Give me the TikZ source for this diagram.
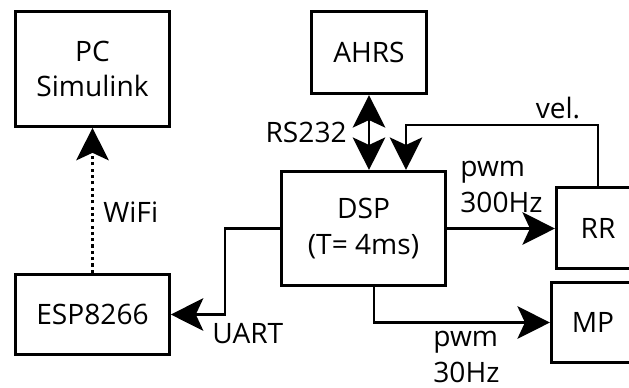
\documentclass[tikz,border=0pt]{standalone}
\usepackage{fontspec}
\setmainfont{Open Sans}
\usetikzlibrary{arrows.meta}

\begin{document}
\begin{tikzpicture}[x=0.02cm,y=-0.02cm,
    font=\fontsize{16}{20}\selectfont,
    bigtip/.tip={Stealth[length=6.5mm,width=6.5mm,inset=1.5mm]},
    blk/.style={draw,line width=1.5pt,align=center,inner sep=0pt},
    link/.style={line width=1.5pt,-bigtip},
    lbl/.style={align=left,inner sep=0pt}]
    \useasboundingbox (0,0) rectangle (629,387);
    \clip (0,0) rectangle (629,387);
    \node[blk,minimum width=3.08cm,minimum height=2.30cm] (pc) at (92.5,69) {PC\\Simulink};
    \node[blk,minimum width=2.30cm,minimum height=1.65cm] (ahrs) at (369,52.5) {AHRS};
    \node[blk,minimum width=3.29cm,minimum height=2.29cm] (dsp) at (363.5,228.5) {DSP\\(T= 4ms)};
    \node[blk,minimum width=1.67cm,minimum height=1.63cm] (rr) at (598,228) {RR};
    \node[blk,minimum width=1.67cm,minimum height=1.61cm] (mp) at (593,322.5) {MP};
    \node[blk,minimum width=3.08cm,minimum height=1.61cm] (esp) at (92.5,314.5) {ESP8266};
    \coordinate (velturn) at (406,125);
    \coordinate (uartturn) at (225,270);
    \draw[link,dash pattern=on 1.8pt off 1.8pt] (esp) -- (pc);
    \draw[link,bigtip-bigtip] (ahrs.south) -- (ahrs.south |- dsp.north);
    \draw[link] (rr.north) |- (velturn) -- (velturn |- dsp.north);
    \draw[link] (dsp.east) -- (dsp.east -| rr.west);
    \draw[link] ([xshift=0.21cm]dsp.south) |- (mp.west);
    \draw[link] (dsp.west) -| (uartturn) |- (esp.east);
    \node[lbl,anchor=base west] (wifi) at (103,222) {WiFi};
    \node[lbl,anchor=base east] (rs) at (347,142) {RS232};
    \node[lbl,anchor=base] (vel) at (558,118) {vel.};
    \node[lbl,anchor=base west] (pwmrr) at (460,212) {pwm\\300Hz};
    \node[lbl,anchor=base west] (pwmmp) at (433,382) {pwm\\30Hz};
    \node[lbl,anchor=base west] (uart) at (212,343) {UART};
\end{tikzpicture}
\end{document}
